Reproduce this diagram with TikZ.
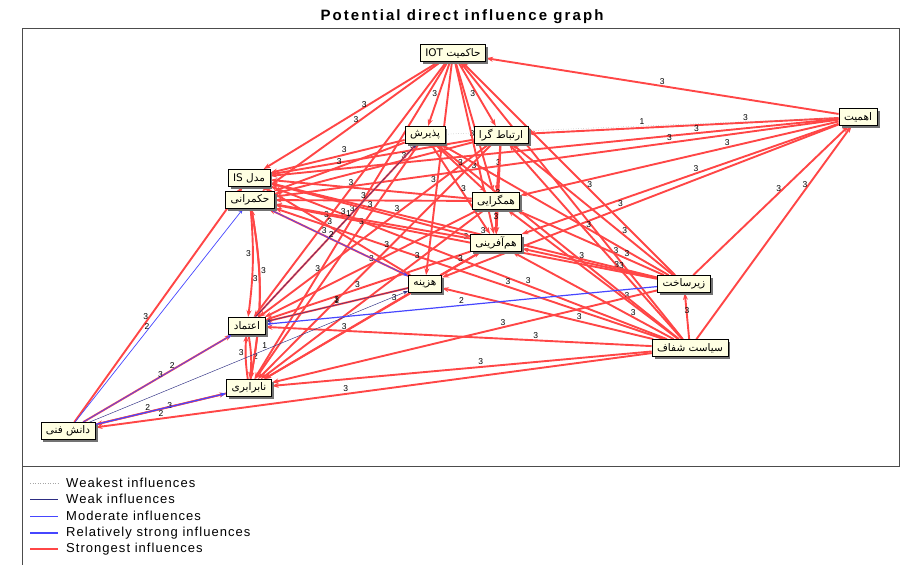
\documentclass[tikz,border=0pt]{standalone}
\usepackage{fontspec}
\setmainfont{Liberation Sans}
\newfontfamily\arabicfont[Script=Arabic]{DejaVu Sans}
\newfontfamily\spacedfont[LetterSpace=14]{Liberation Sans}
\newfontfamily\legendfont[LetterSpace=8]{Liberation Sans}
\TeXXeTstate=1
\usetikzlibrary{arrows.meta,shadows,backgrounds}

\definecolor{strongred}{RGB}{255,70,70}
\definecolor{modblue}{RGB}{70,70,255}
\definecolor{weaknavy}{RGB}{45,45,130}
\definecolor{boxfill}{RGB}{255,255,226}

\tikzset{
  factor/.style={draw=black, line width=0.8pt, fill=boxfill, inner xsep=5pt, inner ysep=2pt, minimum height=17pt,
    font=\arabicfont\fontsize{10.5}{11}\selectfont,
    drop shadow={shadow xshift=2.5pt, shadow yshift=-2.5pt, fill=black!55, opacity=1}},
  strongest/.style={draw=strongred, line width=1.9pt, -{Stealth[length=7pt,width=5pt]}},
  relstrong/.style={draw=modblue, line width=1.2pt, -{Stealth[length=6pt,width=4pt]}},
  moderate/.style={draw=modblue, line width=0.7pt, -{Stealth[length=5pt,width=3.5pt]}},
  weak/.style={draw=weaknavy, line width=0.45pt, -{Stealth[length=5pt,width=3.5pt]}},
  weakest/.style={draw=black!35, line width=0.5pt, dotted},
  lbl/.style={font=\fontsize{8.5}{9}\selectfont, inner sep=1pt, text=black},
  legtext/.style={anchor=west, font=\legendfont\fontsize{13}{14}\selectfont, inner sep=0pt}
}

\begin{document}
\begin{tikzpicture}[x=1pt,y=-1pt]
\useasboundingbox (0,0) rectangle (906,565);

% frame and title
\draw[black!70, line width=0.7pt] (22,28) rectangle (899,466);
\draw[black!70, line width=0.7pt] (22,466) -- (22,565);
\node[font=\spacedfont\bfseries\fontsize{15}{17}\selectfont] (title) at (462,17) {Potential direct influence graph};

% factors
\node[factor] (gov) at (453,53) {\beginR حاکمیت \beginL IOT\endL\endR};
\node[factor] (imp) at (858,117) {\beginR اهمیت\endR};
\node[factor] (accept) at (425,135) {\beginR پذیرش\endR};
\node[factor] (comm) at (501,135) {\beginR ارتباط گرا\endR};
\node[factor] (ismodel) at (249,178) {\beginR مدل \beginL IS\endL\endR};
\node[factor] (rule) at (250,200) {\beginR حکمرانی\endR};
\node[factor] (conv) at (496,201) {\beginR همگرایی\endR};
\node[factor] (cocreate) at (496,243) {\beginR هم‌آفرینی\endR};
\node[factor] (cost) at (425,284) {\beginR هزینه\endR};
\node[factor] (infra) at (684,284) {\beginR زیرساخت\endR};
\node[factor] (trust) at (247,326) {\beginR اعتماد\endR};
\node[factor] (policy) at (690,348) {\beginR سیاست شفاف\endR};
\node[factor] (ineq) at (249,388) {\beginR نابرابری\endR};
\node[factor] (know) at (68,431) {\beginR دانش فنی\endR};

% influences, behind the boxes
\begin{scope}[on background layer]
\foreach \t/\p in {gov/0.5,comm/0.3,conv/0.35,cocreate/0.45,ismodel/0.25,rule/0.3,cost/0.55}
  \draw[strongest] (imp) -- node[lbl,pos=\p,above]{3} (\t);
\draw[weakest] (imp) -- node[lbl,pos=0.5,above]{1} (accept);
\foreach \t/\p in {imp/0.7,gov/0.3,comm/0.35,accept/0.4,conv/0.3,cocreate/0.25,ismodel/0.35,rule/0.4,trust/0.3,ineq/0.45,know/0.55,infra/0.5,cost/0.35}
  \draw[strongest] (policy) -- node[lbl,pos=\p,above]{3} (\t);
\foreach \t/\p in {imp/0.55,gov/0.4,comm/0.3,accept/0.35,conv/0.25,cocreate/0.3,ismodel/0.45,rule/0.5,ineq/0.4}
  \draw[strongest] (infra) -- node[lbl,pos=\p,above]{3} (\t);
\foreach \t/\p in {ismodel/0.4,rule/0.45,trust/0.6,ineq/0.65,comm/0.5,accept/0.5,conv/0.55,cocreate/0.6,cost/0.55}
  \draw[strongest] (gov) -- node[lbl,pos=\p,left]{3} (\t);
\foreach \t/\p in {ismodel/0.3,rule/0.35,trust/0.4,ineq/0.45,conv/0.5,cocreate/0.6}
  \draw[strongest] (comm) -- node[lbl,pos=\p,above]{3} (\t);
\foreach \t/\p in {ismodel/0.45,rule/0.5,trust/0.4,ineq/0.35,conv/0.5,cocreate/0.55}
  \draw[strongest] (accept) -- node[lbl,pos=\p,above]{3} (\t);
\foreach \t/\p in {ismodel/0.6,rule/0.55,trust/0.5,ineq/0.3,cocreate/0.5}
  \draw[strongest] (conv) -- node[lbl,pos=\p,above]{3} (\t);
\foreach \t/\p in {ismodel/0.5,rule/0.65,trust/0.55,ineq/0.4}
  \draw[strongest] (cocreate) -- node[lbl,pos=\p,above]{3} (\t);
\foreach \t/\p in {trust/0.5,ineq/0.45,rule/0.6,ismodel/0.55,cocreate/0.5}
  \draw[strongest] (cost) -- node[lbl,pos=\p,above]{3} (\t);
\draw[strongest] (rule) to[bend left=6] node[lbl,pos=0.4,left]{3} (trust);
\draw[strongest] (rule) to[bend left=10] node[lbl,pos=0.35,right]{3} (ineq);
\draw[strongest] (trust) to[bend left=8] node[lbl,pos=0.5,right]{2} (ineq);
\draw[strongest] (ineq) to[bend left=6] node[lbl,pos=0.6,left]{3} (trust);
\draw[strongest] (ineq) to[bend right=10] node[lbl,pos=0.6,left]{3} (rule);
\draw[strongest] (ineq) -- node[lbl,pos=0.6,above]{2} (know);
\foreach \t/\p in {ismodel/0.45,trust/0.55,ineq/0.6}
  \draw[strongest] (know) -- node[lbl,pos=\p,left]{3} (\t);
\draw[moderate] (know) -- node[lbl,pos=0.45,left]{2} (rule);
\draw[moderate] (know) -- node[lbl,pos=0.6,above]{2} (trust);
\draw[relstrong] (know) -- node[lbl,pos=0.5,below]{2} (ineq);
\draw[weak] (know) -- node[lbl,pos=0.55,above]{1} (cost);
\draw[relstrong] (infra) -- node[lbl,pos=0.5,above]{2} (trust);
\draw[weak] (cost) -- node[lbl,pos=0.5,above]{1} (trust);
\draw[moderate] (rule) -- node[lbl,pos=0.45,above]{2} (cost);
\draw[weak] (trust) -- node[lbl,pos=0.6,left]{1} (accept);
\end{scope}

% legend
\draw[weakest] (30,483) -- (58,483);
\draw[weaknavy, line width=0.5pt] (30,499) -- (58,499);
\draw[modblue, line width=0.7pt] (30,516) -- (58,516);
\draw[modblue, line width=1.5pt] (30,533) -- (58,533);
\draw[strongred, line width=1.5pt] (30,549) -- (58,549);
\node[legtext] (lg1) at (66,483) {Weakest influences};
\node[legtext] (lg2) at (66,499) {Weak influences};
\node[legtext] (lg3) at (66,516) {Moderate influences};
\node[legtext] (lg4) at (66,533) {Relatively strong influences};
\node[legtext] (lg5) at (66,549) {Strongest influences};
\end{tikzpicture}
\end{document}
